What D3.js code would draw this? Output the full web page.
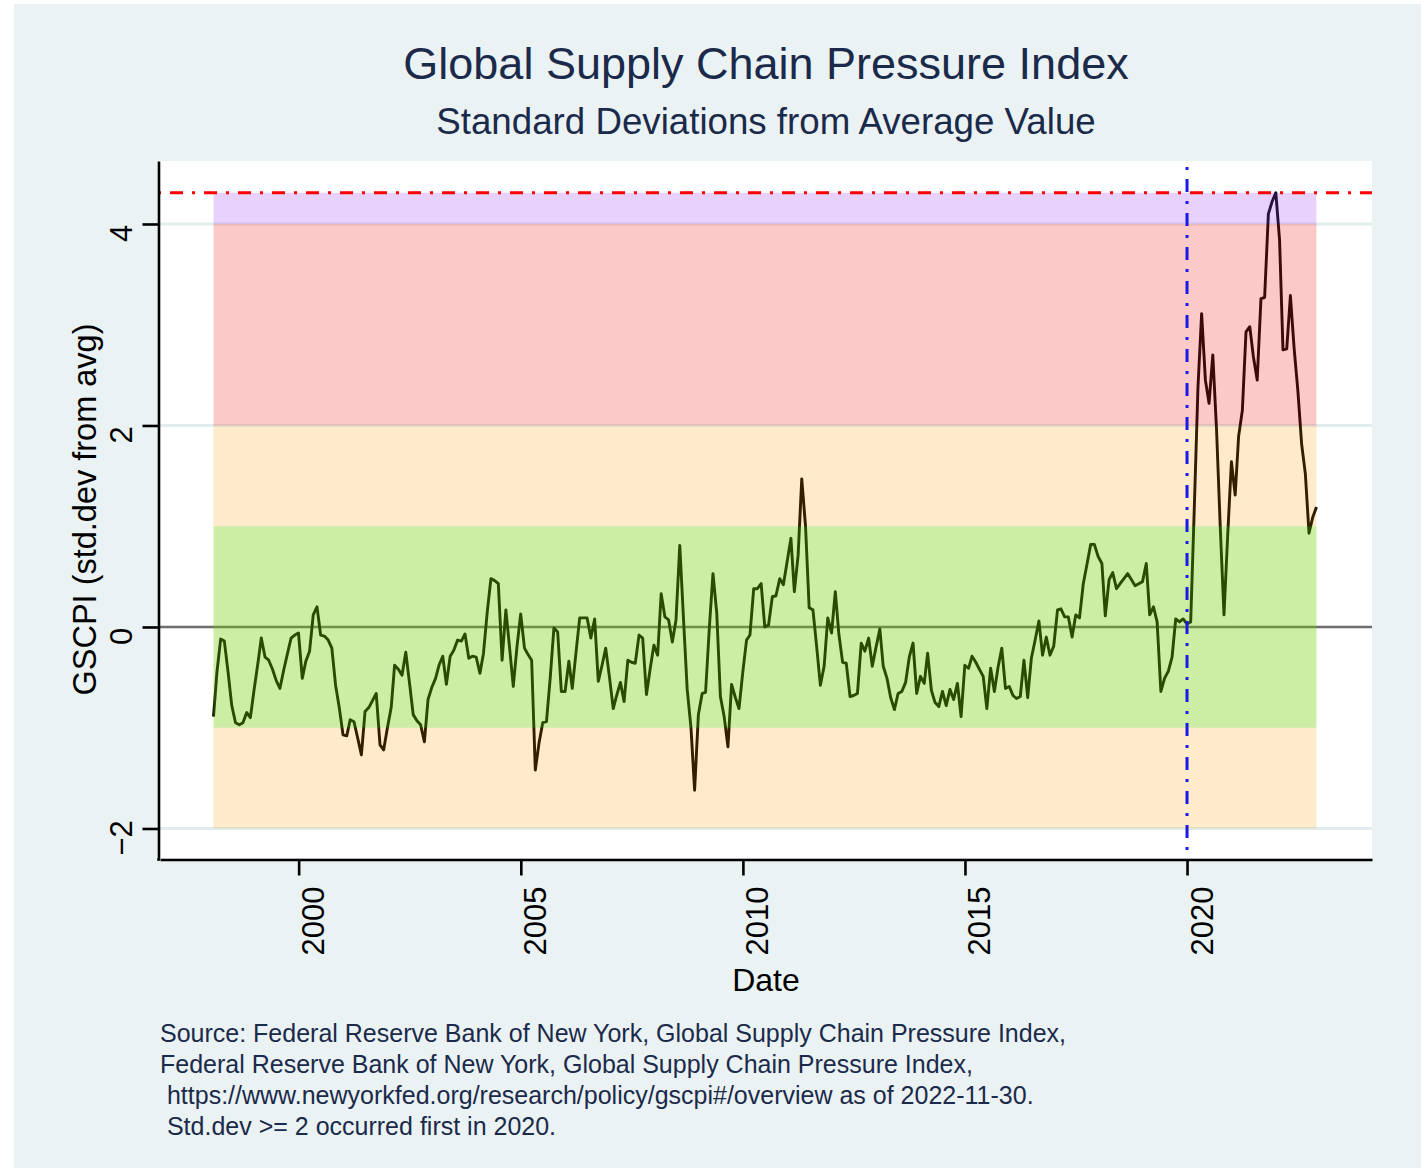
<!DOCTYPE html>
<html><head><meta charset="utf-8">
<script src="https://cdn.jsdelivr.net/npm/d3@7"></script>
<style>
html,body{margin:0;padding:0;background:#fff;}
svg text{font-family:"Liberation Sans",Arial,Helvetica,sans-serif;}
</style></head><body>
<svg id="chart" width="1428" height="1168"></svg>
<script>
// ---------------- data ----------------
const startYear = 1998;          // first observation: January 1998 (month-end dates)
const gscpi = [
 -0.89,-0.45,-0.12,-0.14,-0.45,-0.78,-0.95,-0.97,-0.95,-0.85,-0.90,-0.62,
 -0.36,-0.11,-0.30,-0.33,-0.42,-0.53,-0.61,-0.43,-0.27,-0.11,-0.08,-0.06,
 -0.51,-0.34,-0.24, 0.12, 0.20,-0.08,-0.09,-0.13,-0.21,-0.58,-0.80,-1.07,
 -1.08,-0.92,-0.94,-1.10,-1.27,-0.84,-0.80,-0.73,-0.66,-1.17,-1.22,-1.00,
 -0.80,-0.38,-0.42,-0.48,-0.25,-0.55,-0.87,-0.93,-0.97,-1.14,-0.72,-0.60,
 -0.51,-0.38,-0.29,-0.57,-0.29,-0.23,-0.13,-0.14,-0.07,-0.31,-0.29,-0.30,
 -0.46,-0.26, 0.15, 0.48, 0.46, 0.43,-0.33, 0.17,-0.20,-0.59,-0.20, 0.13,
 -0.21,-0.27,-0.33,-1.42,-1.15,-0.95,-0.94,-0.50,-0.01,-0.05,-0.64,-0.64,
 -0.34,-0.61,-0.25, 0.09, 0.09, 0.09,-0.11, 0.08,-0.54,-0.38,-0.21,-0.50,
 -0.81,-0.68,-0.55,-0.74,-0.33,-0.35,-0.36,-0.08,-0.11,-0.67,-0.42,-0.18,
 -0.28, 0.33, 0.10, 0.07,-0.15, 0.07, 0.81, 0.07,-0.62,-1.00,-1.62,-0.87,
 -0.66,-0.65,-0.01, 0.53, 0.14,-0.69,-0.89,-1.19,-0.57,-0.70,-0.81,-0.45,
 -0.13,-0.08, 0.38, 0.38, 0.43, 0.00, 0.02, 0.30, 0.31, 0.48, 0.42, 0.65,
  0.88, 0.35, 0.71, 1.47, 1.00, 0.19, 0.17,-0.20,-0.58,-0.39, 0.09,-0.06,
  0.35,-0.07,-0.35,-0.36,-0.69,-0.68,-0.66,-0.16,-0.24,-0.11,-0.39,-0.20,
 -0.02,-0.39,-0.51,-0.70,-0.82,-0.66,-0.64,-0.55,-0.30,-0.16,-0.66,-0.49,
 -0.56,-0.26,-0.63,-0.75,-0.79,-0.64,-0.78,-0.62,-0.72,-0.56,-0.89,-0.38,
 -0.41,-0.29,-0.35,-0.42,-0.49,-0.81,-0.41,-0.64,-0.40,-0.21,-0.61,-0.59,
 -0.68,-0.71,-0.69,-0.33,-0.70,-0.31,-0.13, 0.06,-0.28,-0.10,-0.28,-0.19,
  0.17, 0.18, 0.10, 0.10,-0.10, 0.12, 0.09, 0.43, 0.62, 0.82, 0.82, 0.70,
  0.63, 0.11, 0.47, 0.54, 0.38, 0.43, 0.48, 0.53, 0.47, 0.41, 0.43, 0.45,
  0.63, 0.12, 0.20, 0.05,-0.64,-0.51,-0.44,-0.30, 0.08, 0.05, 0.08, 0.03,
  0.05, 1.15, 2.38, 3.11, 2.45, 2.22, 2.70, 1.95, 1.00, 0.12, 0.90, 1.64,
  1.31, 1.89, 2.15, 2.93, 2.98, 2.68, 2.45, 3.26, 3.27, 4.10, 4.22, 4.31,
  3.84, 2.75, 2.76, 3.29, 2.76, 2.35, 1.82, 1.52, 0.93, 1.09, 1.19
];
const yTickValues = [-2, 0, 2, 4];
const xTickYears = [2000, 2005, 2010, 2015, 2020];
const bandLower = [-2, -1, 1, 2, 4];
const bandUpper = [-1, 1, 2, 4, "max"];
const gridValues = [-2, 2, 4];
const thresholdStd = 2;
const titleText = "Global Supply Chain Pressure Index";
const subtitleText = "Standard Deviations from Average Value";
const yTitleText = "GSCPI (std.dev from avg)";
const xTitleText = "Date";
const noteLines = [
  "Source: Federal Reserve Bank of New York, Global Supply Chain Pressure Index,",
  "Federal Reserve Bank of New York, Global Supply Chain Pressure Index,",
  " https://www.newyorkfed.org/research/policy/gscpi#/overview as of 2022-11-30.",
  " Std.dev >= 2 occurred first in 2020."
];

// ---------------- styles ----------------
const bandStyle = [
  {fill:"rgb(245,155,0)",  op:0.20},
  {fill:"rgb(114,208,3)",  op:0.36},
  {fill:"rgb(245,155,0)",  op:0.20},
  {fill:"rgb(244,39,39)",  op:0.25},
  {fill:"rgb(164,72,236)", op:0.25}
];
const textColor = "#1b2a4a";

// ---------------- build ----------------
const series = gscpi.map((v,i)=>({date:new Date(Date.UTC(startYear, i+1, 0)), value:v}));
const maxVal = d3.max(gscpi);
const firstHigh = series.find(d=>d.value>=thresholdStd);
const firstHighYear = firstHigh.date.getUTCFullYear();

const svg = d3.select("#chart");
svg.append("rect").attr("x",0).attr("y",0).attr("width",1428).attr("height",1168).attr("fill","#ffffff");
svg.append("rect").attr("x",14).attr("y",4).attr("width",1407).attr("height",1164).attr("fill","#eaf2f3");

const P = {left:160, right:1372, top:161, bottom:858};
svg.append("rect").attr("x",P.left).attr("y",P.top).attr("width",P.right-P.left).attr("height",P.bottom-P.top).attr("fill","#ffffff");

const x = d3.scaleUtc()
  .domain([new Date(Date.UTC(1996,10,17)), new Date(Date.UTC(2024,2,1))])
  .range([P.left, P.right]);
const y = d3.scaleLinear().domain([-2.293, 4.625]).range([P.bottom, P.top]);

// gridlines
svg.append("g").selectAll("line").data(gridValues).join("line")
  .attr("x1",P.left).attr("x2",P.right)
  .attr("y1",d=>y(d)).attr("y2",d=>y(d))
  .attr("stroke","#e2ebee").attr("stroke-width",3);
// zero line
svg.append("line").attr("x1",P.left).attr("x2",P.right)
  .attr("y1",y(0)).attr("y2",y(0)).attr("stroke","#6e6e6e").attr("stroke-width",2.4);

// data line
const line = d3.line().x(d=>x(d.date)).y(d=>y(d.value));
svg.append("path").datum(series).attr("d",line)
  .attr("fill","none").attr("stroke","#000").attr("stroke-width",2.9).attr("stroke-linejoin","round");

// bands (semi-transparent, over the line)
const x0 = x(series[0].date), x1 = x(series[series.length-1].date);
svg.append("g").selectAll("rect").data(bandLower.map((lo,i)=>({lo, hi: bandUpper[i]==="max"?maxVal:bandUpper[i], s:bandStyle[i]})))
  .join("rect")
  .attr("x",x0).attr("width",x1-x0)
  .attr("y",d=>y(d.hi)).attr("height",d=>y(d.lo)-y(d.hi))
  .attr("fill",d=>d.s.fill).attr("fill-opacity",d=>d.s.op);

// max line
svg.append("line").attr("x1",P.left).attr("x2",P.right)
  .attr("y1",y(maxVal)).attr("y2",y(maxVal))
  .attr("stroke","#ff0000").attr("stroke-width",3).attr("stroke-dasharray","13 9 3 9").attr("stroke-dashoffset",-10);
// first-year vertical line
const xv = x(new Date(Date.UTC(firstHighYear,0,1)));
svg.append("line").attr("x1",xv).attr("x2",xv)
  .attr("y1",P.top).attr("y2",P.bottom)
  .attr("stroke","#1a1ae6").attr("stroke-width",3).attr("stroke-dasharray","3 9 13 9").attr("stroke-dashoffset",-6);

// axes
const yAxis = svg.append("g").attr("transform",`translate(${P.left-1.5},0)`)
  .call(d3.axisLeft(y).tickValues(yTickValues).tickSize(16).tickSizeOuter(0).tickFormat(d3.format("d")));
yAxis.select(".domain").attr("stroke","#000").attr("stroke-width",2.6);
yAxis.selectAll(".tick line").attr("stroke","#000").attr("stroke-width",2.6);
yAxis.selectAll(".tick text")
  .attr("transform","rotate(-90)").attr("x",-9).attr("y",-27).attr("dy",0)
  .style("text-anchor","middle").style("font-size","31px").attr("fill","#000")
  .style("font-family",'"Liberation Sans",Arial,sans-serif');

const xAxis = svg.append("g").attr("transform",`translate(0,${P.bottom+1.5})`)
  .call(d3.axisBottom(x).tickValues(xTickYears.map(yr=>new Date(Date.UTC(yr,0,1)))).tickSize(16).tickSizeOuter(0)
    .tickFormat(d3.utcFormat("%Y")));
xAxis.select(".domain").attr("stroke","#000").attr("stroke-width",2.6);
xAxis.selectAll(".tick line").attr("stroke","#000").attr("stroke-width",2.6);
xAxis.selectAll(".tick text")
  .attr("transform","rotate(-90)").attr("x",-27).attr("y",25).attr("dy",0)
  .style("text-anchor","end").style("font-size","31px").attr("fill","#000")
  .style("font-family",'"Liberation Sans",Arial,sans-serif');
// corner join
svg.append("line").attr("x1",P.left-2.8).attr("x2",P.left).attr("y1",P.bottom+1.5).attr("y2",P.bottom+1.5)
  .attr("stroke","#000").attr("stroke-width",2.6);

// titles
const cx = (P.left+P.right)/2;
svg.append("text").attr("x",cx).attr("y",79).attr("text-anchor","middle")
  .style("font-size","45px").attr("fill",textColor).text(titleText);
svg.append("text").attr("x",cx).attr("y",134).attr("text-anchor","middle")
  .style("font-size","36.7px").attr("fill",textColor).text(subtitleText);
svg.append("text").attr("x",cx).attr("y",991).attr("text-anchor","middle")
  .style("font-size","32px").attr("fill","#000").text(xTitleText);
svg.append("text").attr("transform",`translate(96,${(P.top+P.bottom)/2}) rotate(-90)`).attr("text-anchor","middle")
  .style("font-size","32.5px").attr("fill","#000").text(yTitleText);

// notes
svg.append("g").selectAll("text").data(noteLines).join("text")
  .attr("x",160).attr("y",(d,i)=>1042+i*31)
  .style("font-size","25px").style("white-space","pre").attr("fill",textColor)
  .text(d=>d);
</script>
</body></html>
